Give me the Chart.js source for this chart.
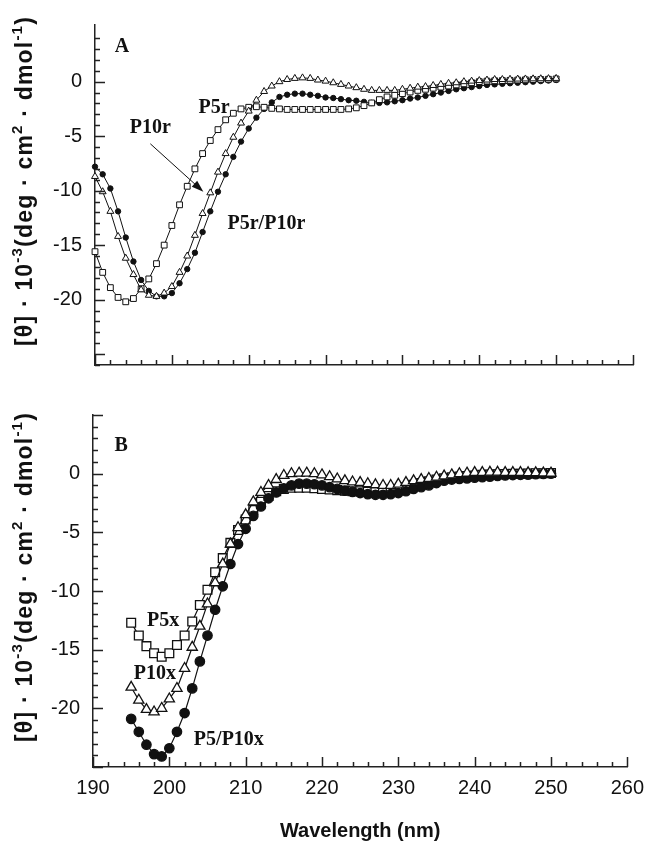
<!DOCTYPE html>
<html>
<head>
<meta charset="utf-8">
<script src="https://cdn.jsdelivr.net/npm/chart.js@4.4.1/dist/chart.umd.min.js"></script>
<style>
  html, body { margin: 0; padding: 0; background: #fff; }
  #wrap { position: relative; width: 653px; height: 848px; }
  #chartA { position: absolute; left: 0; top: 0; }
  #chartB { position: absolute; left: 0; top: 390px; }
</style>
</head>
<body>
<div id="wrap">
  <canvas id="chartA" width="653" height="390"></canvas>
  <canvas id="chartB" width="653" height="458"></canvas>
</div>
<script>
// Panel A: wavelengths (nm) and mean residue ellipticity (x 10^-3)
var wavelengthA = [190, 191, 192, 193, 194, 195, 196, 197, 198, 199,
                   200, 201, 202, 203, 204, 205, 206, 207, 208, 209,
                   210, 211, 212, 213, 214, 215, 216, 217, 218, 219,
                   220, 221, 222, 223, 224, 225, 226, 227, 228, 229,
                   230, 231, 232, 233, 234, 235, 236, 237, 238, 239,
                   240, 241, 242, 243, 244, 245, 246, 247, 248, 249, 250];
var p5r = [-15.6, -17.5, -18.9, -19.8, -20.2, -19.9, -19.0, -18.1, -16.7, -15.0,
           -13.2, -11.3, -9.6, -8.0, -6.6, -5.4, -4.4, -3.5, -2.9, -2.5,
           -2.35, -2.3, -2.35, -2.45, -2.5, -2.55, -2.55, -2.55, -2.55, -2.55,
           -2.55, -2.55, -2.55, -2.5, -2.4, -2.2, -1.95, -1.65, -1.4, -1.25,
           -1.1, -0.95, -0.8, -0.7, -0.6, -0.5, -0.4, -0.3, -0.2, -0.1,
           0.0, 0.05, 0.08, 0.1, 0.12, 0.15, 0.17, 0.19, 0.2, 0.22, 0.25];
var p10r = [-8.7, -10.1, -11.9, -14.2, -16.2, -17.7, -19.1, -19.6, -19.7, -19.4,
            -18.8, -17.5, -16.0, -14.1, -12.1, -10.2, -8.3, -6.6, -5.1, -3.8,
            -2.7, -1.7, -0.9, -0.4, 0.0, 0.2, 0.3, 0.35, 0.3, 0.15,
            0.05, -0.1, -0.25, -0.4, -0.55, -0.7, -0.8, -0.8, -0.8, -0.8,
            -0.7, -0.6, -0.5, -0.45, -0.35, -0.25, -0.15, -0.1, 0.0, 0.05,
            0.1, 0.15, 0.2, 0.2, 0.22, 0.24, 0.25, 0.26, 0.27, 0.28, 0.3];
var p5rP10r = [-7.8, -8.5, -9.8, -11.9, -14.3, -16.5, -18.2, -19.2, -19.7, -19.7,
               -19.4, -18.5, -17.2, -15.7, -13.8, -11.9, -10.1, -8.5, -6.9, -5.5,
               -4.3, -3.3, -2.5, -1.9, -1.4, -1.2, -1.1, -1.1, -1.2, -1.3,
               -1.45, -1.5, -1.6, -1.7, -1.75, -1.85, -1.95, -1.95, -1.9, -1.8,
               -1.7, -1.55, -1.45, -1.3, -1.15, -1.0, -0.85, -0.7, -0.6, -0.5,
               -0.4, -0.3, -0.25, -0.2, -0.15, -0.1, -0.05, 0, 0.05, 0.1, 0.15];

// Panel B
var wavelengthB = [195, 196, 197, 198, 199, 200, 201, 202, 203, 204,
                   205, 206, 207, 208, 209, 210, 211, 212, 213, 214,
                   215, 216, 217, 218, 219, 220, 221, 222, 223, 224,
                   225, 226, 227, 228, 229, 230, 231, 232, 233, 234,
                   235, 236, 237, 238, 239, 240, 241, 242, 243, 244,
                   245, 246, 247, 248, 249, 250];
var p5x = [-12.7, -13.8, -14.7, -15.3, -15.6, -15.3, -14.6, -13.8, -12.6, -11.2,
           -9.9, -8.4, -7.2, -5.9, -4.8, -3.9, -3.1, -2.4, -1.9, -1.5,
           -1.3, -1.2, -1.2, -1.2, -1.25, -1.3, -1.35, -1.4, -1.45, -1.5,
           -1.5, -1.55, -1.55, -1.5, -1.45, -1.3, -1.15, -0.95, -0.8, -0.65,
           -0.5, -0.4, -0.3, -0.25, -0.2, -0.15, -0.1, -0.08, -0.05, -0.03,
           0, 0, 0.02, 0.03, 0.04, 0.05];
var p10x = [-18.2, -19.3, -20.1, -20.3, -20.0, -19.2, -18.3, -16.6, -14.8, -13.0,
            -11.1, -9.3, -7.7, -6.0, -4.6, -3.5, -2.4, -1.6, -1.0, -0.5,
            -0.15, 0.0, 0.05, 0.05, 0.0, -0.1, -0.25, -0.45, -0.6, -0.7,
            -0.75, -0.85, -0.95, -1.0, -1.0, -0.9, -0.75, -0.6, -0.5, -0.4,
            -0.3, -0.2, -0.1, 0.0, 0.05, 0.1, 0.1, 0.12, 0.12, 0.1,
            0.1, 0.1, 0.08, 0.08, 0.06, 0.05];
var p5P10x = [-20.9, -22.0, -23.1, -23.9, -24.1, -23.4, -22.0, -20.4, -18.3, -16.0,
              -13.8, -11.6, -9.6, -7.7, -6.0, -4.7, -3.6, -2.8, -2.1, -1.6,
              -1.25, -1.0, -0.85, -0.85, -0.9, -1.0, -1.15, -1.3, -1.45, -1.55,
              -1.65, -1.75, -1.8, -1.8, -1.75, -1.65, -1.5, -1.3, -1.15, -1.0,
              -0.8, -0.6, -0.5, -0.45, -0.4, -0.35, -0.3, -0.25, -0.2, -0.15,
              -0.12, -0.1, -0.08, -0.05, -0.02, 0];

// axis ticks
var xTickLabels = [190, 200, 210, 220, 230, 240, 250, 260];
var yTickLabels = [0, -5, -10, -15, -20];

// y-axis title pieces: [text, superscript?]
var yTitleParts = [['[\u03b8] \u00b7 10', false], ['-3', true], ['(deg \u00b7 cm', false],
                   ['2', true], [' \u00b7 dmol', false], ['-1', true], [')', false]];

// text labels placed in data units (wavelength, value)
var notesA = [
  { text: 'A', x: 193.5, y: 3.2 },
  { text: 'P5r', x: 205.5, y: -2.4 },
  { text: 'P10r', x: 197.2, y: -4.2 },
  { text: 'P5r/P10r', x: 212.3, y: -13.0 }
];
var arrowA = { x1: 197.2, y1: -5.7, x2: 204.1, y2: -10.1 };
var notesB = [
  { text: 'B', x: 193.7, y: 2.4 },
  { text: 'P5x', x: 199.2, y: -12.5 },
  { text: 'P10x', x: 198.1, y: -17.1 },
  { text: 'P5/P10x', x: 207.8, y: -22.7 }
];

var INK = '#111';
var SANS = '"Liberation Sans", Arial, sans-serif';

function toXY(xs, ys) {
  return xs.map(function (x, i) { return { x: x, y: ys[i] }; });
}

// inward tick marks drawn from the chart's own scales
var tickMarks = {
  id: 'tickMarks',
  afterDraw: function (chart) {
    var ctx = chart.ctx;
    var xs = chart.scales.x, ys = chart.scales.y;
    ctx.save();
    ctx.strokeStyle = '#222';
    ctx.lineWidth = 1.5;
    ctx.beginPath();
    xs.ticks.forEach(function (t) {
      if (!Number.isInteger(t.value)) return;
      var px = Math.round(xs.getPixelForValue(t.value)) + 0.5;
      var len = t.value % 10 === 0 ? 10 : 5;
      ctx.moveTo(px, xs.top);
      ctx.lineTo(px, xs.top - len);
    });
    ys.ticks.forEach(function (t) {
      if (!Number.isInteger(t.value)) return;
      var py = Math.round(ys.getPixelForValue(t.value)) + 0.5;
      var len = t.value % 5 === 0 ? 10 : 5;
      ctx.moveTo(ys.right, py);
      ctx.lineTo(ys.right + len, py);
    });
    ctx.stroke();
    ctx.restore();
  }
};

// rotated y title with real superscripts
var yTitle = {
  id: 'yTitle',
  afterDraw: function (chart) {
    var ctx = chart.ctx, area = chart.chartArea;
    var big = 'bold 23px ' + SANS, small = 'bold 15px ' + SANS;
    var target = 330, w = 0, n = 0;
    ctx.save();
    yTitleParts.forEach(function (p) {
      ctx.font = p[1] ? small : big;
      w += ctx.measureText(p[0]).width;
      n += p[0].length;
    });
    var gap = Math.max(0, Math.min(2, (target - w) / n));
    ctx.translate(24, (area.top + area.bottom) / 2 - 14);
    ctx.rotate(-Math.PI / 2);
    ctx.fillStyle = INK;
    ctx.textBaseline = 'alphabetic';
    ctx.textAlign = 'left';
    var x = -(w + gap * n) / 2;
    yTitleParts.forEach(function (p) {
      ctx.font = p[1] ? small : big;
      for (var i = 0; i < p[0].length; i++) {
        var ch = p[0][i];
        ctx.fillText(ch, x, p[1] ? -2 : 8);
        x += ctx.measureText(ch).width + gap;
      }
    });
    ctx.restore();
  }
};

// panel letters, curve names and the arrow
var notes = {
  id: 'notes',
  afterDraw: function (chart, args, opts) {
    var ctx = chart.ctx;
    var xs = chart.scales.x, ys = chart.scales.y;
    ctx.save();
    ctx.fillStyle = INK;
    ctx.font = 'bold 20px "Liberation Serif", "Times New Roman", serif';
    ctx.textAlign = 'center';
    ctx.textBaseline = 'middle';
    opts.items.forEach(function (n) {
      ctx.fillText(n.text, xs.getPixelForValue(n.x), ys.getPixelForValue(n.y));
    });
    if (opts.arrow) {
      var a = opts.arrow;
      var x1 = xs.getPixelForValue(a.x1), y1 = ys.getPixelForValue(a.y1);
      var x2 = xs.getPixelForValue(a.x2), y2 = ys.getPixelForValue(a.y2);
      var ang = Math.atan2(y2 - y1, x2 - x1);
      ctx.strokeStyle = INK;
      ctx.lineWidth = 1;
      ctx.beginPath();
      ctx.moveTo(x1, y1);
      ctx.lineTo(x2 - 8 * Math.cos(ang), y2 - 8 * Math.sin(ang));
      ctx.stroke();
      ctx.beginPath();
      ctx.moveTo(x2, y2);
      ctx.lineTo(x2 - 12 * Math.cos(ang) + 4 * Math.sin(ang), y2 - 12 * Math.sin(ang) - 4 * Math.cos(ang));
      ctx.lineTo(x2 - 12 * Math.cos(ang) - 4 * Math.sin(ang), y2 - 12 * Math.sin(ang) + 4 * Math.cos(ang));
      ctx.closePath();
      ctx.fill();
    }
    ctx.restore();
  }
};

function series(data, style, big) {
  var s = {
    data: data,
    showLine: true,
    borderColor: INK,
    borderWidth: big ? 1.2 : 1,
    tension: 0,
    pointStyle: style,
    pointBorderColor: INK,
    pointBorderWidth: big ? 1.3 : 1,
    pointBackgroundColor: style === 'circle' ? INK : '#fff',
    clip: false
  };
  if (style === 'rect') s.pointRadius = big ? 6.2 : 4.1;
  if (style === 'triangle') s.pointRadius = big ? 5.9 : 4.0;
  if (style === 'circle') s.pointRadius = big ? 4.7 : 2.7;
  s.pointHoverRadius = s.pointRadius;
  return s;
}

function makeOptions(cfg) {
  return {
    responsive: false,
    animation: false,
    events: [],
    layout: { padding: { top: 13, right: cfg.right, left: 0, bottom: 0 } },
    plugins: {
      legend: { display: false },
      tooltip: { enabled: false },
      notes: { items: cfg.notes, arrow: cfg.arrow }
    },
    scales: {
      x: {
        type: 'linear',
        min: 190, max: 260,
        grid: { display: false, drawTicks: false },
        border: { display: true, color: '#222', width: 1.5 },
        ticks: {
          display: cfg.xLabels,
          stepSize: 2,
          maxTicksLimit: 200,
          autoSkip: false,
          maxRotation: 0,
          padding: 9,
          color: INK,
          font: { family: SANS, size: 20 },
          callback: function (v) { return xTickLabels.indexOf(v) >= 0 ? String(v) : ''; }
        },
        title: {
          display: cfg.xLabels,
          text: 'Wavelength (nm)',
          color: INK,
          font: { family: SANS, size: 20, weight: 'bold' },
          padding: { top: 0, bottom: 5 }
        },
        afterFit: function (scale) { scale.height = cfg.xHeight; }
      },
      y: {
        type: 'linear',
        min: cfg.yMin, max: cfg.yMax,
        grid: { display: false, drawTicks: false },
        border: { display: true, color: '#222', width: 1.5 },
        ticks: {
          stepSize: 1,
          maxTicksLimit: 200,
          autoSkip: false,
          padding: 13,
          color: INK,
          font: { family: SANS, size: 20 },
          callback: function (v) { return yTickLabels.indexOf(v) >= 0 ? String(v) : ''; }
        },
        title: { display: false },
        afterFit: function (scale) { scale.width = cfg.yWidth; }
      }
    }
  };
}

new Chart(document.getElementById('chartA'), {
  type: 'scatter',
  data: {
    datasets: [
      series(toXY(wavelengthA, p10r), 'triangle', false),
      series(toXY(wavelengthA, p5r), 'rect', false),
      series(toXY(wavelengthA, p5rP10r), 'circle', false)
    ]
  },
  options: makeOptions({ right: 20, yMin: -26, yMax: 5.2, yWidth: 95, xHeight: 13,
                         xLabels: false, notes: notesA, arrow: arrowA }),
  plugins: [tickMarks, yTitle, notes]
});

new Chart(document.getElementById('chartB'), {
  type: 'scatter',
  data: {
    datasets: [
      series(toXY(wavelengthB, p10x), 'triangle', true),
      series(toXY(wavelengthB, p5P10x), 'circle', true),
      series(toXY(wavelengthB, p5x), 'rect', true)
    ]
  },
  options: makeOptions({ right: 21, yMin: -25, yMax: 5, yWidth: 93, xHeight: 81,
                         xLabels: true, notes: notesB, arrow: null }),
  plugins: [tickMarks, yTitle, notes]
});
</script>
</body>
</html>
